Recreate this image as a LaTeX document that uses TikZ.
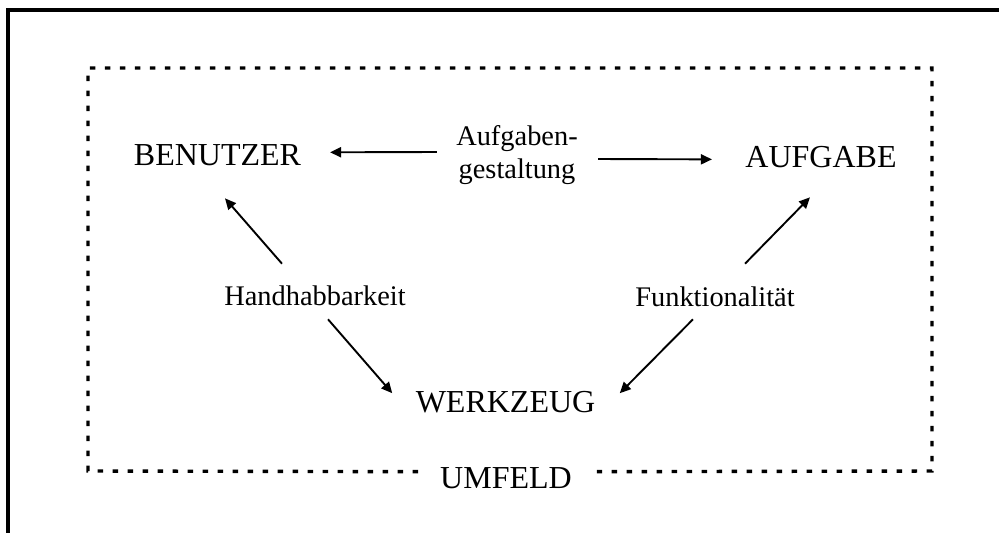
\documentclass[tikz,border=0pt]{standalone}
\usepackage{fontspec}
\setmainfont{Liberation Serif}
\usepackage{tikz}
\usetikzlibrary{arrows.meta}
\tikzset{
  bigword/.style={inner sep=0pt,outer sep=0pt,anchor=base,font=\fontsize{16}{19}\selectfont},
  smallword/.style={inner sep=0pt,outer sep=0pt,anchor=base,font=\fontsize{14.2}{16.5}\selectfont},
  relarrow/.style={-{Triangle[length=5.5pt,width=5pt]},line width=0.95pt},
  envline/.style={line width=1.7pt,dash pattern=on 2.8pt off 4.7pt}
}

\begin{document}
\begin{tikzpicture}[x=0.5pt,y=-0.5pt]
\useasboundingbox (0,0) rectangle (999,532);
% frame (only top and left edges show)
\draw[line width=1.6pt,line join=miter] (8,545) -- (8,10) -- (1010,10);
\node[bigword] (benutzer) at (217.5,165) {BENUTZER};
\node[bigword] (aufgabe) at (821,167) {AUFGABE};
\node[bigword] (werkzeug) at (505.5,412) {WERKZEUG};
\node[bigword] (umfeld) at (506,488) {UMFELD};
\node[smallword,anchor=center,align=center] (aufg) at (517,155) {Aufgaben-\\gestaltung};
\node[smallword] (handh) at (315,305) {Handhabbarkeit};
\node[smallword] (funkt) at (715,306) {Funktionalität};
% environment box, open at the label
\coordinate (bl) at (88,471);
\coordinate (tl) at (88,68);
\coordinate (tr) at (932,68);
\coordinate (br) at (932,471);
\draw[envline] ([shift={(-11pt,3pt)}]umfeld.west) -- (bl) -- (tl) -- (tr) -- (br) -- ([shift={(12.5pt,3pt)}]umfeld.east);
% relations
\draw[relarrow] ([shift={(-9.75pt,1.5pt)}]aufg.west) -- ([shift={(14.5pt,1.2pt)}]benutzer.east);
\draw[relarrow] ([shift={(10.25pt,-2pt)}]aufg.east) -- ([shift={(-16.75pt,-1.4pt)}]aufgabe.west);
\draw[relarrow] ([shift={(-16.5pt,10.8pt)}]handh.north) -- ([shift={(3.75pt,-16.5pt)}]benutzer.south);
\draw[relarrow] ([shift={(6.5pt,-7pt)}]handh.south) -- ([shift={(-11.75pt,-1.2pt)}]werkzeug.north west);
\draw[relarrow] ([shift={(15pt,11.3pt)}]funkt.north) -- ([shift={(-5.5pt,-15pt)}]aufgabe.south);
\draw[relarrow] ([shift={(-11pt,-6.5pt)}]funkt.south) -- ([shift={(12.25pt,-1.2pt)}]werkzeug.north east);
\end{tikzpicture}
\end{document}
